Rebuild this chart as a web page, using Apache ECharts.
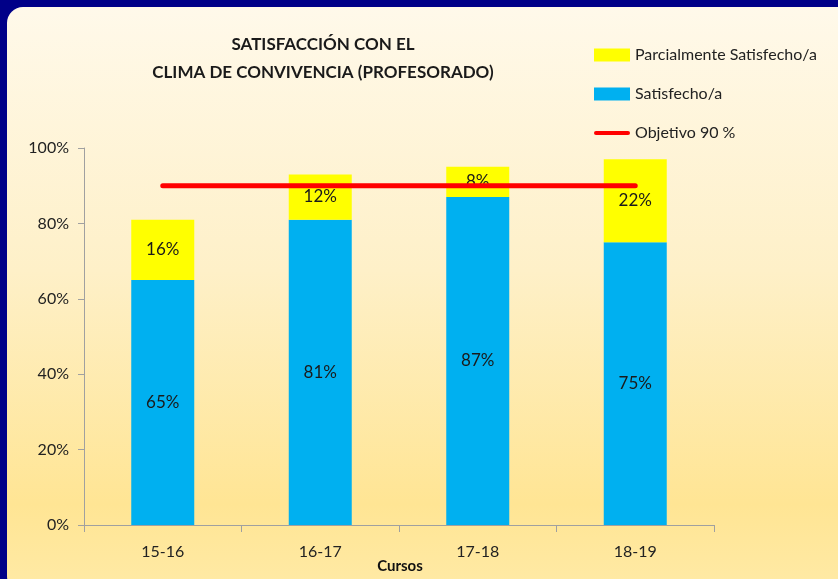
<!DOCTYPE html>
<html>
<head>
<meta charset="utf-8">
<script src="https://cdn.jsdelivr.net/npm/echarts@6/dist/echarts.min.js"></script>
<style>
  html, body { margin: 0; padding: 0; background: #000088; }
  #chart { width: 838px; height: 579px; }
</style>
</head>
<body>
<div id="chart"></div>
<script>
var cursos = ['15-16', '16-17', '17-18', '18-19'];
var satisfecho = [65, 81, 87, 75];
var parcial = [16, 12, 8, 22];
var objetivo = [90, 90, 90, 90];

var fuente = 'Lato, "Liberation Sans", sans-serif';
var chart = echarts.init(document.getElementById('chart'));

var option = {
    backgroundColor: '#000088',
    animation: false,
    graphic: [{
        type: 'rect',
        z: -10,
        shape: { x: 7, y: 7, width: 845, height: 585, r: 16 },
        style: {
            fill: new echarts.graphic.LinearGradient(0, 0, 0, 1, [
                { offset: 0, color: '#fff9ea' },
                { offset: 0.45, color: '#fef0c8' },
                { offset: 0.85, color: '#ffe594' },
                { offset: 1, color: '#ffeaa6' }
            ])
        }
    }, {
        // titulo del eje x
        type: 'text',
        x: 400,
        y: 566,
        style: {
            text: 'Cursos',
            font: 'bold 15px ' + fuente,
            fill: '#111',
            textAlign: 'center',
            textVerticalAlign: 'middle'
        }
    }],
    title: {
        text: 'SATISFACCIÓN CON EL\nCLIMA DE CONVIVENCIA (PROFESORADO)',
        left: 318,
        top: 26,
        textAlign: 'center',
        textStyle: {
            fontFamily: fuente,
            fontSize: 17,
            fontWeight: 'bold',
            color: '#1a1a1a',
            lineHeight: 28
        }
    },
    legend: {
        orient: 'vertical',
        left: 589,
        top: 42,
        itemGap: 23,
        itemWidth: 36,
        itemHeight: 13,
        textStyle: { fontFamily: fuente, fontSize: 16, color: '#222' },
        data: [
            { name: 'Parcialmente Satisfecho/a', icon: 'rect' },
            { name: 'Satisfecho/a', icon: 'rect' },
            { name: 'Objetivo 90 %', icon: 'path://M2,0 L34,0 A2,2 0 0 1 34,4 L2,4 A2,2 0 0 1 2,0 Z' }
        ]
    },
    grid: { left: 84, top: 148, width: 630, height: 377, outerBoundsMode: 'none', containLabel: false },
    xAxis: {
        type: 'category',
        data: cursos,
        axisLine: { lineStyle: { color: '#a0a0a0' } },
        axisTick: { show: true, length: 7, lineStyle: { color: '#a0a0a0' } },
        axisLabel: { fontFamily: fuente, fontSize: 16, color: '#222', margin: 19 }
    },
    yAxis: {
        type: 'value',
        min: 0,
        max: 100,
        interval: 20,
        axisLine: { show: true, lineStyle: { color: '#a0a0a0' } },
        axisTick: { show: true, length: 6, inside: false, lineStyle: { color: '#a0a0a0' } },
        splitLine: { show: false },
        axisLabel: { fontFamily: fuente, fontSize: 16, color: '#222', margin: 15, formatter: '{value}%' }
    },
    series: [
        {
            name: 'Satisfecho/a',
            type: 'bar',
            stack: 'total',
            barWidth: '40%',
            data: satisfecho,
            itemStyle: { color: '#00b0f0' },
            label: { show: true, position: 'inside', formatter: '{c}%', fontFamily: fuente, fontSize: 17, color: '#1a1a1a' }
        },
        {
            name: 'Parcialmente Satisfecho/a',
            type: 'bar',
            stack: 'total',
            data: parcial,
            itemStyle: { color: '#ffff00' },
            label: { show: true, position: 'inside', formatter: '{c}%', fontFamily: fuente, fontSize: 17, color: '#1a1a1a' }
        },
        {
            name: 'Objetivo 90 %',
            type: 'line',
            data: objetivo,
            symbol: 'none',
            z: 5,
            lineStyle: { color: '#ff0000', width: 5, cap: 'round' },
            itemStyle: { color: '#ff0000' }
        }
    ]
};

chart.setOption(option);
</script>
</body>
</html>
